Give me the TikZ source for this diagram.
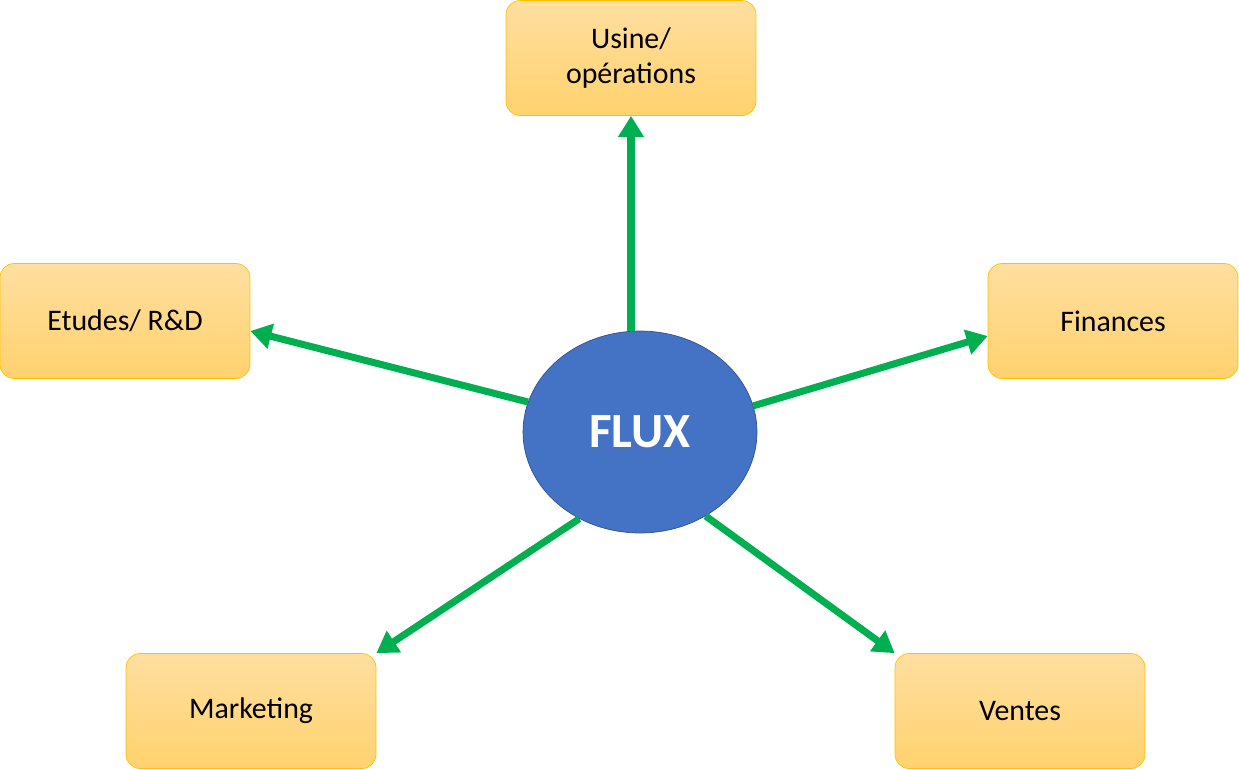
\documentclass[tikz,border=0pt]{standalone}
\usepackage{fontspec}
\setmainfont{Carlito}
\usetikzlibrary{shapes.geometric,arrows.meta,positioning}
\definecolor{boxtop}{RGB}{255,223,160}
\definecolor{boxbot}{RGB}{255,210,110}
\definecolor{boxline}{RGB}{255,192,0}
\definecolor{fluxblue}{RGB}{68,114,196}
\definecolor{fluxline}{RGB}{47,82,143}
\definecolor{flowgreen}{RGB}{0,176,80}
\begin{document}
\begin{tikzpicture}[
  x=0.02cm, y=-0.02cm,
  dept/.style={rectangle, draw=boxline, top color=boxtop, bottom color=boxbot, minimum height=2.3cm, minimum width=5cm, rounded corners=8pt, font=\fontsize{17}{20}\selectfont, align=center},
  hub/.style={ellipse, draw=fluxline, fill=fluxblue, minimum width=4.68cm, minimum height=4.04cm, font=\fontsize{28}{32}\selectfont\bfseries, text=white},
  arrow/.style={-{Triangle[length=12pt,width=14pt]}, line width=4pt, flowgreen}
]
\useasboundingbox (0,0) rectangle (1239,769);

% Center
\node[hub] (flux) at (640,432) {FLUX};

% Departments
\node[dept] (usine) at (631,58) {Usine/\\opérations};
\node[dept] (etudes) at (125,321) {Etudes/ R\&D};
\node[dept] (finances) at (1113,321) {Finances};
\node[dept] (marketing) at (251,711) {Marketing};
\node[dept] (ventes) at (1020,711) {Ventes};

% Arrows
\draw[arrow] (flux.north) ++(-9,0) coordinate (u0) -- (u0 |- usine.south);
\draw[arrow] (flux.165) -- ([yshift=-0.2cm]etudes.east);
\draw[arrow] (flux.13) -- ([yshift=-0.3cm]finances.west);
\draw[arrow] (flux.235) -- (marketing.north east);
\draw[arrow] (flux.-52) -- (ventes.north west);

\end{tikzpicture}
\end{document}
